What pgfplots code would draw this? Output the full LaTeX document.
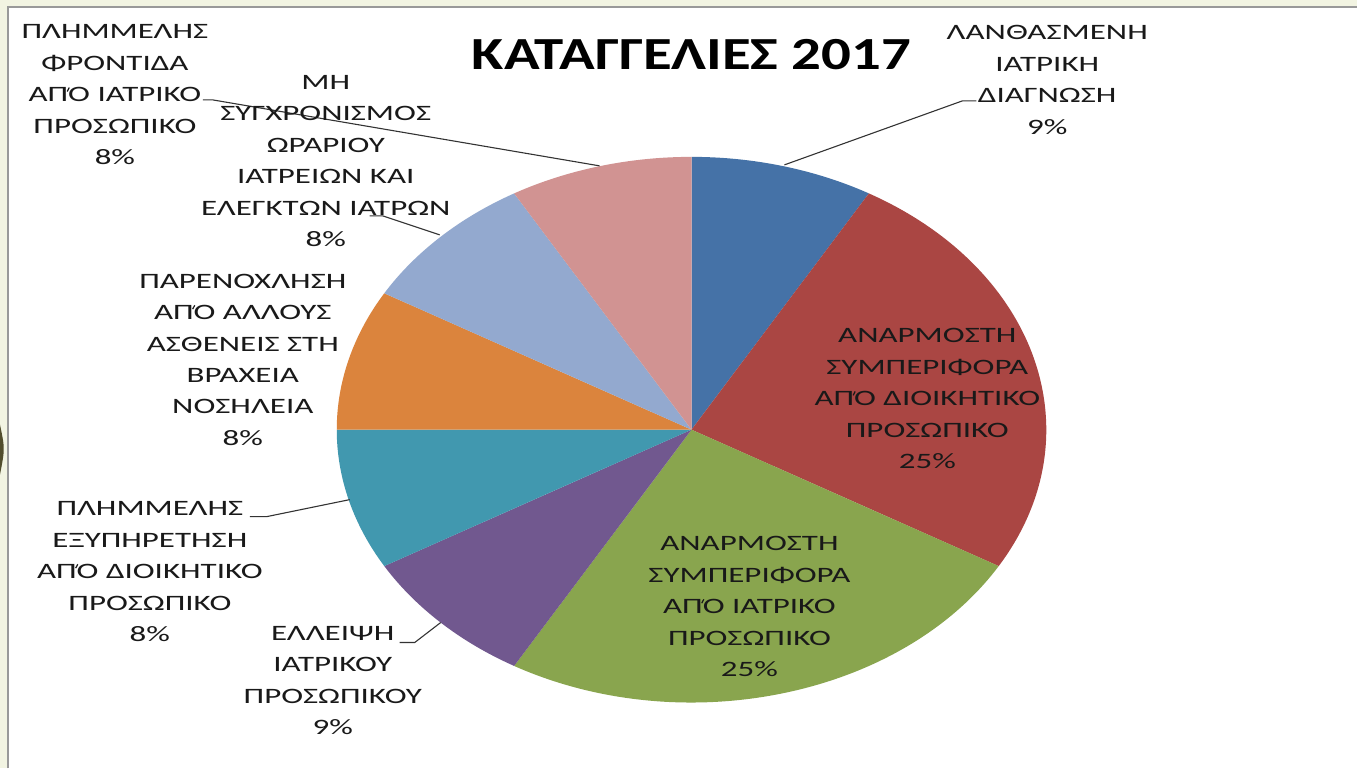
\documentclass[border=0pt]{standalone}
\usepackage{pgfplots}
\pgfplotsset{compat=1.18}
\usepackage{fontspec}
\setmainfont{Carlito}[FakeStretch=1.5]
\newfontfamily\titlefont{Carlito}[FakeStretch=1.28]

\definecolor{sliceA}{HTML}{4572A7}
\definecolor{sliceB}{HTML}{AA4643}
\definecolor{sliceC}{HTML}{89A54E}
\definecolor{sliceD}{HTML}{71588F}
\definecolor{sliceE}{HTML}{4198AF}
\definecolor{sliceF}{HTML}{DB843D}
\definecolor{sliceG}{HTML}{93A9CF}
\definecolor{sliceH}{HTML}{D19392}
\definecolor{pale}{HTML}{F2F4E2}

% "ΑΠΌ": the tonos is drawn as a small slanted rule on the join of Π and Ο
\newcommand\apo{ΑΠ\makebox[0pt][c]{\raisebox{0.46em}{\rotatebox{62}{\rule{0.2em}{0.055em}}}}Ο}

\tikzset{lbl/.style={align=center, font=\fontsize{22}{31.5}\selectfont, text=black!90, inner sep=0pt}}

\begin{document}
\begin{tikzpicture}
\begin{axis}[scale only axis, width=1358pt, height=769pt,
  xmin=0, xmax=1358, ymin=0, ymax=769, hide axis, clip=false]
% background frame
\fill[pale] (axis cs:0,0) rectangle (axis cs:1358,769);
\fill[white] (axis cs:8,0) rectangle (axis cs:1358,762);
\draw[black!40, line width=2pt] (axis cs:8,0) -- (axis cs:8,762) -- (axis cs:1358,762);
\fill[black!55!olive] (axis cs:0,344) .. controls (axis cs:5,320) .. (axis cs:0,294) -- cycle;

% slices: counts, clockwise from the top
\def\angA{90}
\foreach \v/\c in {1/sliceA,3/sliceB,3/sliceC,1/sliceD,1/sliceE,1/sliceF,1/sliceG,1/sliceH} {
  \pgfmathsetmacro{\angB}{\angA-360*\v/12}
  \edef\temp{\noexpand\fill[\c] (axis cs:692,339) -- (axis cs:{692+355*cos(\angA)},{339+273*sin(\angA)})
    arc[start angle=\angA, end angle=\angB, x radius=355, y radius=273] -- cycle;}
  \temp
  \xdef\angA{\angB}
}

% leader lines
\draw[black!80, line width=1.1pt] (axis cs:785,604) -- (axis cs:963,668) -- (axis cs:977,668);
\draw[black!80, line width=1.1pt] (axis cs:441,146) -- (axis cs:415,126) -- (axis cs:400,126);
\draw[black!80, line width=1.1pt] (axis cs:350,269) -- (axis cs:267,252) -- (axis cs:250,252);
\draw[black!80, line width=1.1pt] (axis cs:440,534) -- (axis cs:383,553) -- (axis cs:370,553);
\draw[black!80, line width=1.1pt] (axis cs:600,603) -- (axis cs:213,669) -- (axis cs:203,669);

% labels
\node[lbl] at (axis cs:1048,689) {ΛΑΝΘΑΣΜΕΝΗ\\ΙΑΤΡΙΚΗ\\ΔΙΑΓΝΩΣΗ\\9\%};
\node[lbl] at (axis cs:928,370) {ΑΝΑΡΜΟΣΤΗ\\ΣΥΜΠΕΡΙΦΟΡΑ\\\apo{} ΔΙΟΙΚΗΤΙΚΟ\\ΠΡΟΣΩΠΙΚΟ\\25\%};
\node[lbl] at (axis cs:750,162) {ΑΝΑΡΜΟΣΤΗ\\ΣΥΜΠΕΡΙΦΟΡΑ\\\apo{} ΙΑΤΡΙΚΟ\\ΠΡΟΣΩΠΙΚΟ\\25\%};
\node[lbl] at (axis cs:333,88) {ΕΛΛΕΙΨΗ\\ΙΑΤΡΙΚΟΥ\\ΠΡΟΣΩΠΙΚΟΥ\\9\%};
\node[lbl] at (axis cs:150,197) {ΠΛΗΜΜΕΛΗΣ\\ΕΞΥΠΗΡΕΤΗΣΗ\\\apo{} ΔΙΟΙΚΗΤΙΚΟ\\ΠΡΟΣΩΠΙΚΟ\\8\%};
\node[lbl] at (axis cs:243,409) {ΠΑΡΕΝΟΧΛΗΣΗ\\\apo{} ΑΛΛΟΥΣ\\ΑΣΘΕΝΕΙΣ ΣΤΗ\\ΒΡΑΧΕΙΑ\\ΝΟΣΗΛΕΙΑ\\8\%};
\node[lbl] at (axis cs:326,608) {ΜΗ\\ΣΥΓΧΡΟΝΙΣΜΟΣ\\ΩΡΑΡΙΟΥ\\ΙΑΤΡΕΙΩΝ ΚΑΙ\\ΕΛΕΓΚΤΩΝ ΙΑΤΡΩΝ\\8\%};
\node[lbl] at (axis cs:115,674) {ΠΛΗΜΜΕΛΗΣ\\ΦΡΟΝΤΙΔΑ\\\apo{} ΙΑΤΡΙΚΟ\\ΠΡΟΣΩΠΙΚΟ\\8\%};

% title
\node[inner sep=0pt, font=\titlefont\bfseries\fontsize{46}{50}\selectfont] at (axis cs:692,714) {ΚΑΤΑΓΓΕΛΙΕΣ 2017};
\end{axis}
\end{tikzpicture}
\end{document}
